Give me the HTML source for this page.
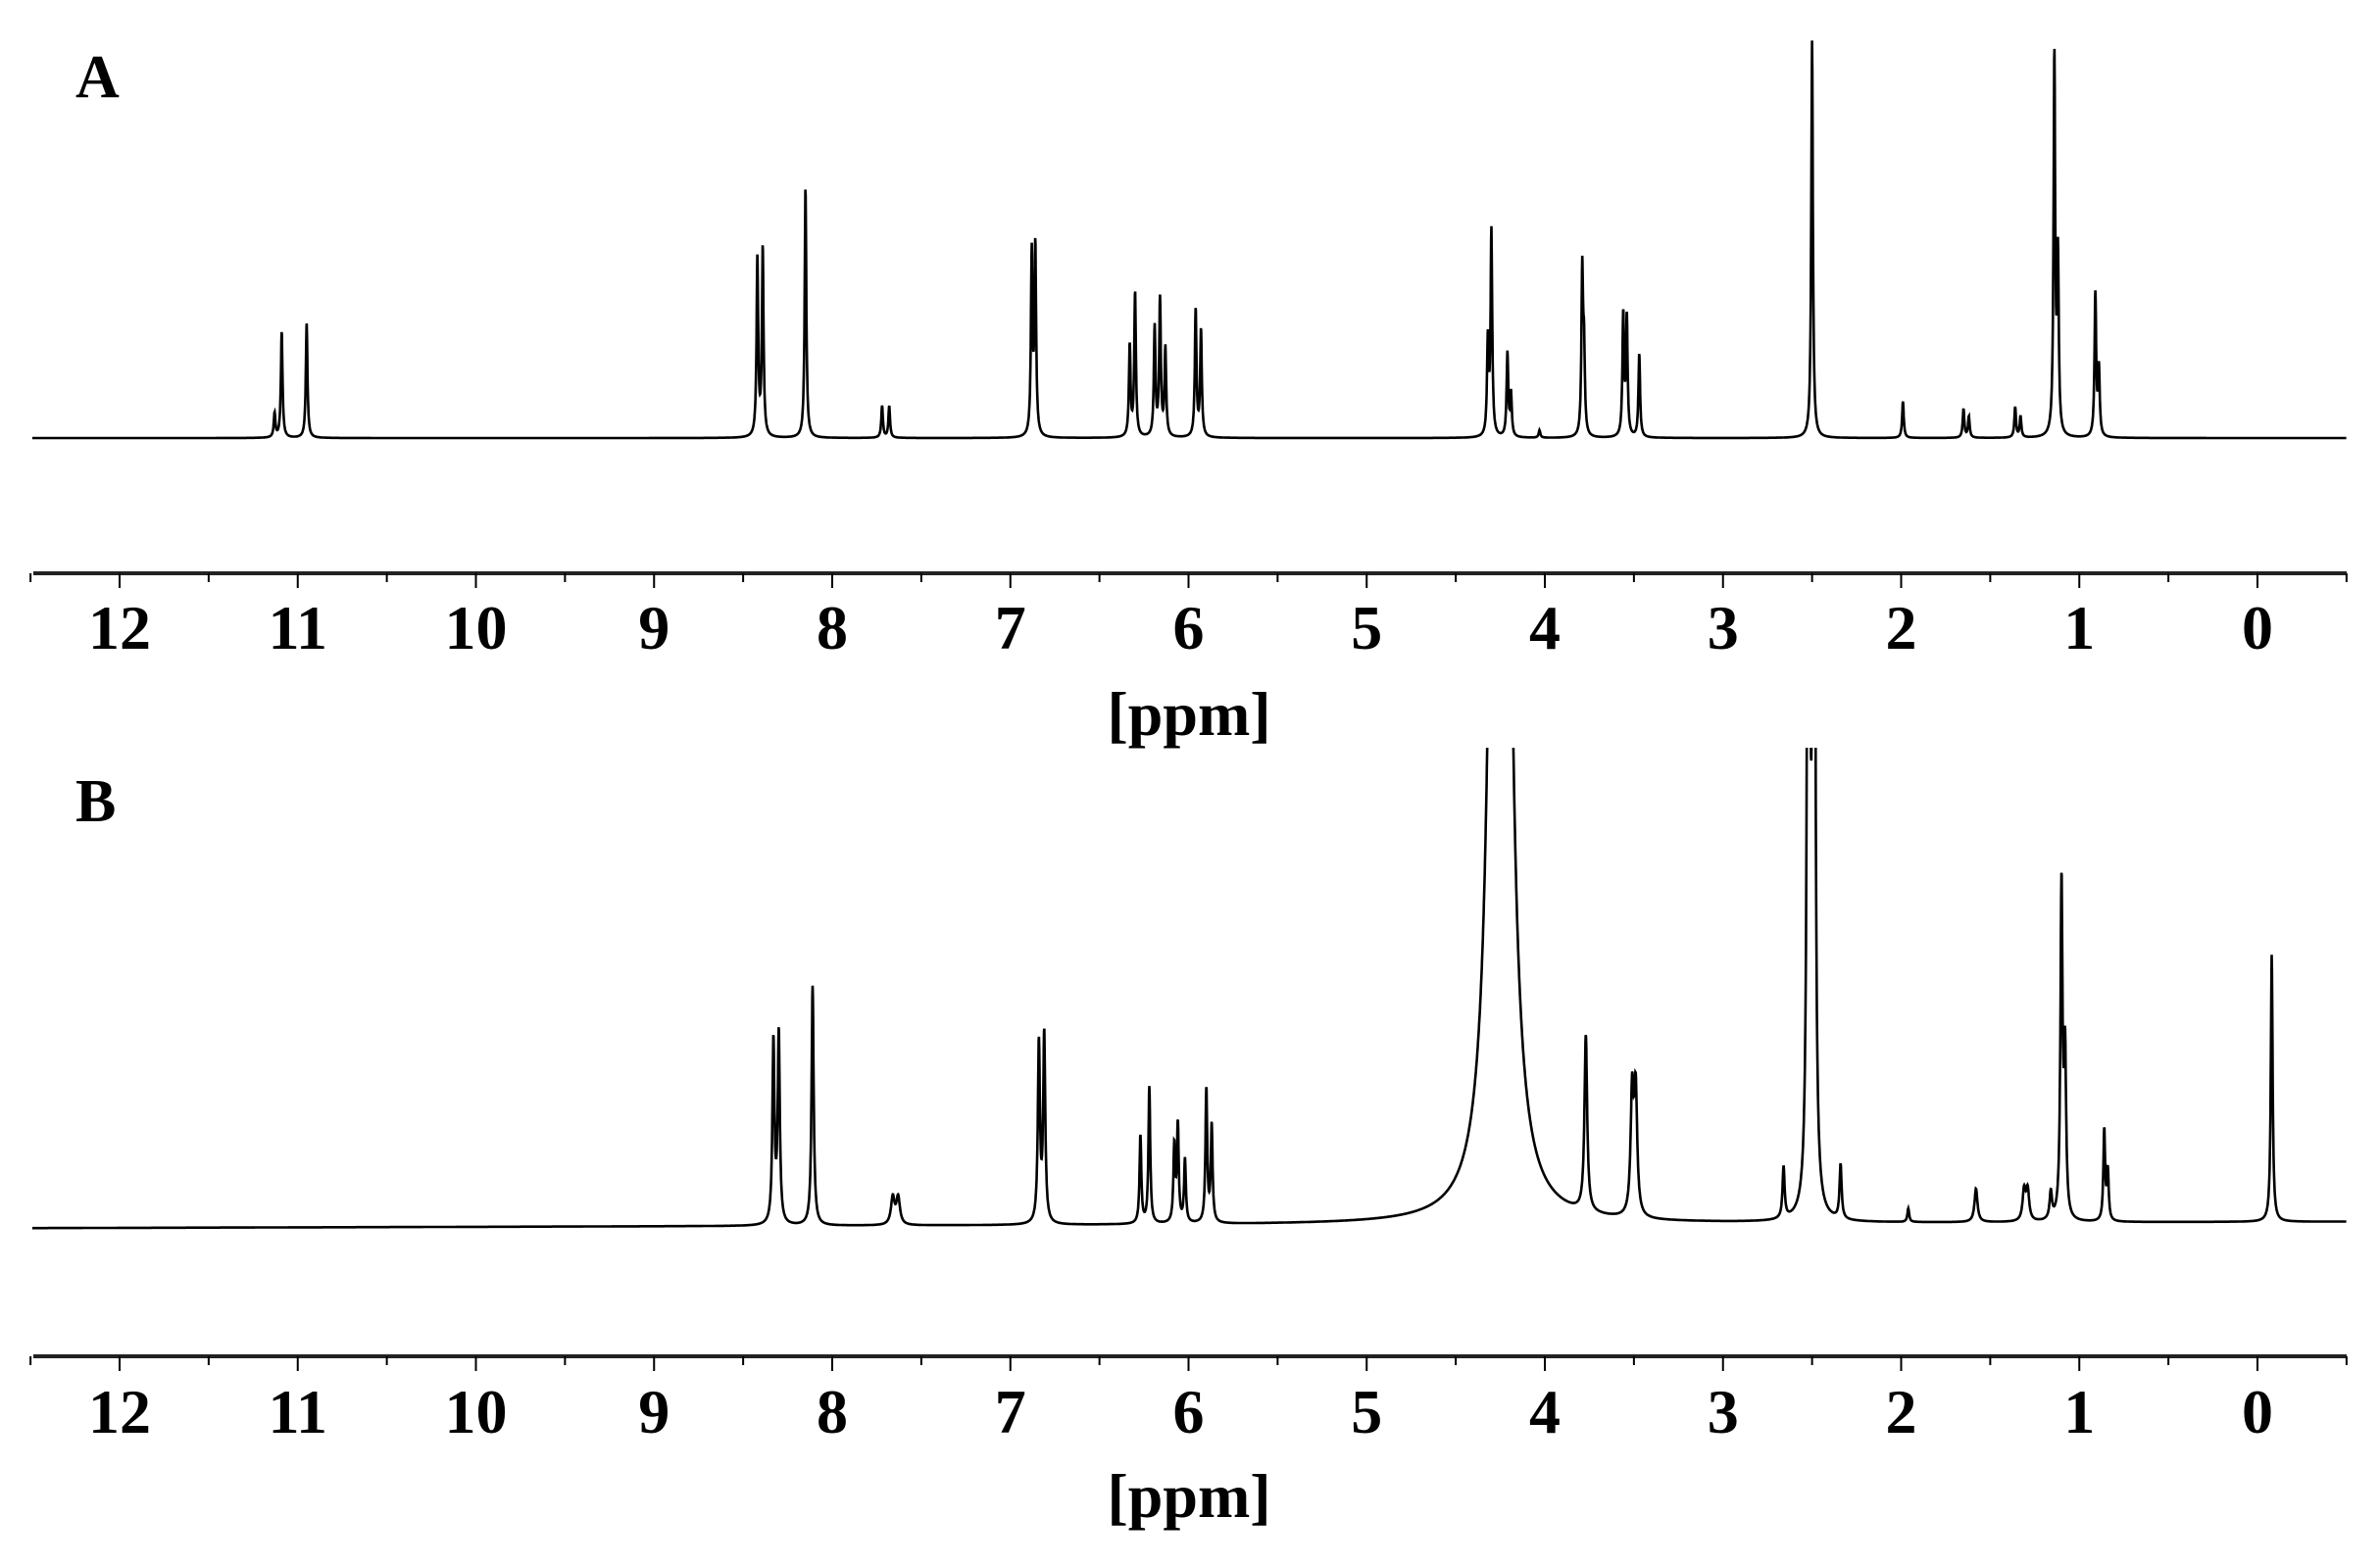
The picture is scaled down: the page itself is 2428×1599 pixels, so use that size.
<!DOCTYPE html>
<html><head><meta charset="utf-8"><style>
html,body{margin:0;padding:0;background:#fff;}
svg{display:block;}
text{font-family:"Liberation Serif",serif;font-weight:bold;fill:#000;}
</style></head><body>
<svg id="chart" width="2428" height="1599" viewBox="0 0 2428 1599" xmlns="http://www.w3.org/2000/svg">
<defs><clipPath id="clipB"><rect x="0" y="763" width="2428" height="600"/></clipPath></defs>
<text x="77" y="99" font-size="62">A</text>
<text x="77" y="838" font-size="62">B</text>
<g id="gA"></g>
<g id="gB"></g>
</svg>
<script>
const tickLabels = ["12","11","10","9","8","7","6","5","4","3","2","1","0"];
const tickValues = [12,11,10,9,8,7,6,5,4,3,2,1,0];
const peaksA_ppm = [11.13,11.09,10.95,8.42,8.39,8.15,7.72,7.68,6.88,6.86,6.33,6.30,6.19,6.16,6.13,5.96,5.93,4.32,4.30,4.21,4.19,4.03,3.79,3.78,3.56,3.54,3.47,2.50,1.99,1.65,1.62,1.36,1.33,1.14,1.12,0.91,0.89];
const peaksA_height = [16,70,76,118,124,165,21,21,120,124,60,95,72,90,58,84,70,62,135,55,28,5,108,52,80,78,55,262,24,19,14,20,14,250,115,94,44];
const peaksA_width = 0.0055;
const peaksB_ppm = [8.33,8.30,8.11,7.66,7.63,6.84,6.81,6.27,6.22,6.08,6.06,6.02,5.90,5.87,4.25,3.77,3.51,3.49,2.66,2.52,2.49,2.34,1.96,1.58,1.31,1.29,1.16,1.10,1.08,0.86,0.84,-0.08];
const peaksB_height = [120,125,158,18,18,118,124,58,90,50,64,42,88,64,2200,116,80,80,34,1100,1100,36,9,22,20,20,18,220,105,60,32,176];
const peaksB_width = [0.007,0.007,0.007,0.012,0.012,0.007,0.007,0.006,0.006,0.006,0.006,0.006,0.006,0.006,0.03,0.009,0.01,0.01,0.007,0.006,0.006,0.007,0.006,0.01,0.01,0.01,0.008,0.007,0.007,0.006,0.006,0.006];

const NS='http://www.w3.org/2000/svg';
const ppmMin=-0.5, ppmMax=12.49;
function xScale(p){return 2303 - p*181.75;}
function mk(tag,attrs,parent){const e=document.createElementNS(NS,tag);for(const k in attrs)e.setAttribute(k,attrs[k]);parent.appendChild(e);return e;}

function spectrum(ppms,heights,widths,baseY,scale,tilt){
  let d='';
  for(let p=ppmMax;p>=ppmMin;p-=0.0015){
    let s=0;
    for(let i=0;i<ppms.length;i++){
      const g=Array.isArray(widths)?widths[i]:widths;
      const dx=p-ppms[i];
      s+=heights[i]*g*g/(dx*dx+g*g);
    }
    const x=xScale(p);
    const by=baseY+tilt*(p-6)/6;
    const y=by-s*scale;
    d+=(d?'L':'M')+x.toFixed(1)+' '+y.toFixed(1);
  }
  return d;
}

function axis(g,axisY,labelY,unitY,name){
  const ln=mk('line',{x1:34,y1:axisY,x2:2394,y2:axisY,stroke:'#222','stroke-width':4},g);
  
  
  for(let v=12.5;v>=-0.5;v-=0.5){
    const major=Math.abs(v-Math.round(v))<1e-6;
    const t=mk('line',{x1:xScale(v),y1:axisY,x2:xScale(v),y2:axisY+(major?15:9),stroke:'#000','stroke-width':2},g);
    
    
  }
  tickValues.forEach((v,i)=>{
    const t=mk('text',{x:xScale(v),y:labelY,'font-size':64,'text-anchor':'middle'},g);
    t.textContent=tickLabels[i];
    
    
  });
  const u=mk('text',{x:1213,y:unitY,'font-size':64,'text-anchor':'middle'},g);
  u.textContent='[ppm]';
  
  
}

const gA=document.getElementById('gA');
const pA=mk('path',{d:spectrum(peaksA_ppm,peaksA_height,peaksA_width,447,1.548,0),fill:'none',stroke:'#000','stroke-width':2.6},gA);


axis(gA,585,662,750,'panel-a');

const gB=document.getElementById('gB');
const pB=mk('path',{d:spectrum(peaksB_ppm,peaksB_height,peaksB_width,1250,1.548,3),fill:'none',stroke:'#000','stroke-width':2.6,'clip-path':'url(#clipB)'},gB);


axis(gB,1384,1462,1548,'panel-b');
</script>
</body></html>
